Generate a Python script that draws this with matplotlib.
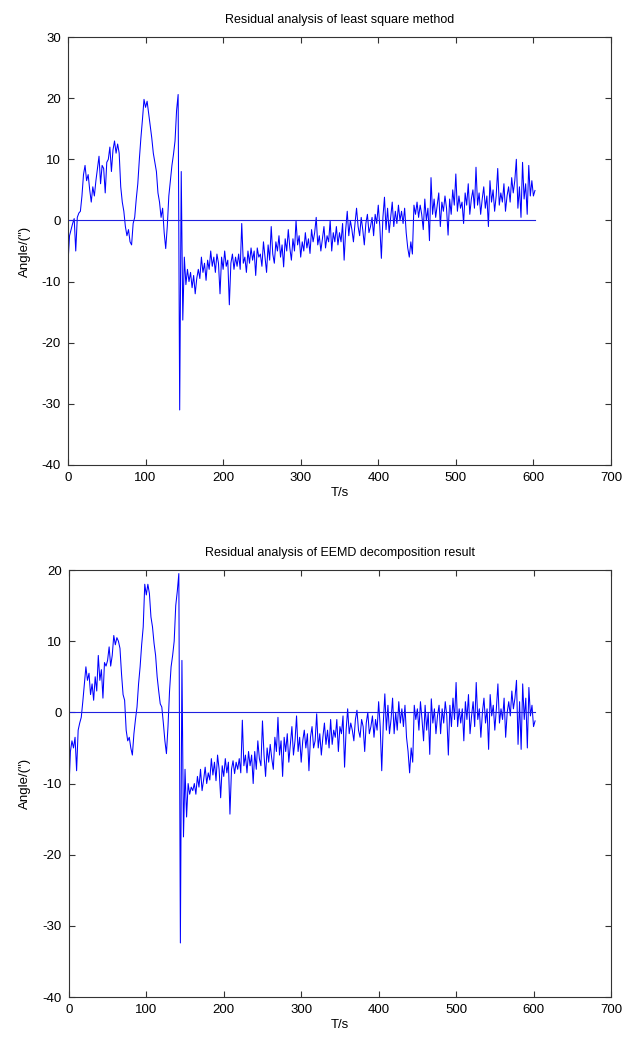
import numpy as np
import matplotlib.pyplot as plt

# residuals, one value every 2 s starting at t = 0
ls_residual = [
    -7, -2.5, -1.5, -0.5, 0.3, -5, 0.5, 1.2, 1.5, 4,
    7.5, 9, 6.5, 7.5, 5, 3, 5.5, 4, 6.5, 8.5,
    10.5, 6, 9, 8.5, 4.5, 9.5, 10, 12, 8, 11.5,
    13, 11, 12.5, 11, 5.5, 3, 1.5, -1, -2.5, -1.5,
    -3.5, -4, -0.5, 0.5, 3.5, 6, 10, 13.5, 16.5, 19.8,
    18.5, 19.5, 17.5, 15.5, 13.5, 11, 9.5, 8, 4.5, 3,
    0.5, 2, -2, -4.6, -1, 4, 6.5, 9, 10.8, 13,
    18, 20.6, -31, 8, -16.3, -6, -10.5, -8, -10, -8.5,
    -11, -9, -12, -9.5, -8, -9.5, -6, -8.5, -7, -9.8,
    -6.5, -8, -5, -7.5, -6, -8.5, -5.5, -7, -12, -6,
    -8, -5, -7.5, -6.5, -13.8, -7, -5.5, -8, -6, -7.5,
    -5.5, -8, -0.5, -7, -6, -8.5, -5, -7, -4.5, -6.5,
    -5, -9, -4.5, -6, -5.5, -7.5, -3.5, -6, -8.5, -4,
    -6.5, -1, -5.5, -7, -3.5, -5, -2.5, -6, -4, -7.6,
    -3, -5, -1.5, -4.5, -6.5, -3, -5, 0, -4, -2.5,
    -6, -3.5, -5, -2, -4.5, -3, -5.4, -1.5, -3.5, -2,
    0.5, -4, -2.5, -5, -3, -1, -4.5, -2.5, -3.5, 0,
    -5, -2, -3.5, -1, -4, -2, -3.5, -0.5, -6.5, -1.5,
    1.5, -2.5, 0, -1.5, -3.5, -0.5, 2, -1, -2.5, 0.5,
    -1.5, -4, -0.5, 1, -2, -1, 0.5, -2.5, 1, -0.5,
    2.5, -1, -6.2, 0.5, 3.8, -1.5, 2, -2, 0.5, 3,
    -1, 1.5, -0.5, 2.5, 0, 1.5, -0.5, 2, -2, -4.5,
    -6, -3.5, -5.5, 2.5, 1, 3, 0.5, 2.5, 1, -1.5,
    3.5, 0, 2, -3.3, 7, 1, 3.5, 0.5, 2.5, 4.5,
    -1, 3, 1.5, 4, 2, -2.4, 3.5, 1, 5, 2.5,
    7.6, 1.5, 4, 2, 3, -0.5, 4.5, 2.5, 6, 1,
    3.5, 5, 2, 8.7, 2.5, 4.5, 1, 3.5, 5.5, 2,
    4, -1, 6.5, 3, 5, 1.5, 4, 8.5, 2.5, 4.5,
    3, 6, 1.5, 4, 5.5, 3, 7, 4.5, 6.5, 10,
    2, 5.5, 0.5, 9.5, 3.5, 6, 1, 9, 4, 6.5,
    4, 4.9,
]

eemd_residual = [
    -11, -5.5, -4, -5, -3.5, -8.2, -2.5, -1.5, -0.7, 1.5,
    4, 6.4, 4.5, 5.5, 2.5, 4, 1.7, 5, 3, 8,
    4.5, 6, 2, 7, 6.5, 7.3, 9.2, 6.5, 8, 10.8,
    9.5, 10.5, 10, 9, 5.4, 2.5, 1.7, -2.5, -4, -3.5,
    -5, -6, -3, -1, 0.75, 4, 6.4, 9.5, 12, 18,
    16.5, 18, 16.7, 13.4, 12, 9.7, 8, 5, 3, 1.2,
    0.75, -1.5, -4, -5.8, -2, 3, 6.4, 8, 10, 15,
    17, 19.5, -32.4, 7.3, -17.5, -8, -14.7, -10, -11.5, -10.5,
    -11, -10, -11.5, -9, -10.5, -8, -11, -9.5, -7.7, -10,
    -8.5, -9.5, -6.5, -8.8, -7, -9.6, -6, -8, -12, -7.5,
    -9, -6.5, -8.5, -7, -14.3, -8, -6.8, -8.6, -7, -8,
    -6.5, -8.5, -1.1, -7.5, -6, -8.5, -5.5, -7.5, -6, -10,
    -5.5, -8, -4, -6.5, -7.5, -1.2, -6, -9, -5, -7,
    -4.5, -6.5, -8, -3.5, -5.5, -0.7, -6, -4, -9, -3.5,
    -5.5, -3, -7, -4.5, -2, -6, -4, -0.5, -5.5, -3.5,
    -7, -4, -2.5, -5, -3, -8.2, -3.5, -2, -5, -4,
    -0.2, -5, -3, -6, -3.5, -1.5, -4.5, -2.5, -5, -1,
    -4.5, -2.5, -3.5, -1, -5.5, -2, -3, -0.5, -7.7, -2.5,
    0.5, -3, -1.5, -2.5, -4, -1, 0.3, -2.5, -3.5, -1,
    -2, -5.5, -1.5, 0, -3, -2, -0.5, -3.5, -1, -2.5,
    1.5, -2, -8.2, -1.5, 2.6, -2.5, 1, -3, -1, 2,
    -3, 0, -2.5, 1.5, -1.5, 0.5, -2, 1, -3.5, -5.5,
    -8.5, -5, -7, 1, -1, 0.5, -2.5, 1.5, -1, -4,
    1, -2.5, 0, -5.9, 1.9, -1.5, 0.5, -3, -0.5, 1,
    -3, 0.5, -1.5, 1.5, -0.5, -6, 1, -2, 2, -1,
    4.2, -2, 0.5, -1.5, 0.5, -4, 1.5, -1, 2.5, -3,
    -0.5, 1.5, -2, 4.2, -1, 0.5, -3.5, 0, 2, -1.5,
    0.5, -5.2, 2.5, -0.5, 1, -2.5, 0.5, 4, -1.5, 0.5,
    -1, 2, -3.5, 0, 1.5, -0.5, 3, 0.5, 2, 4.5,
    -4.5, 1.5, -5.2, 4, -1, 2, -5, 3.5, -0.5, 1,
    -2, -1.2,
]

titles = ["Residual analysis of least square method",
          "Residual analysis of EEMD decomposition result"]
y_limits = [(-40, 30), (-40, 20)]
x_ticks = [0, 100, 200, 300, 400, 500, 600, 700]

plt.rcParams['font.family'] = ['Liberation Sans', 'DejaVu Sans']
plt.rcParams['font.size'] = 9.5
plt.rcParams['axes.unicode_minus'] = False

fig = plt.figure(figsize=(6.26, 10.4), dpi=100)
ax_top = fig.add_axes([0.1086, 0.5529, 0.8674, 0.4115])
ax_bot = fig.add_axes([0.1100, 0.0413, 0.8660, 0.4106])

for ax, values, title, ylim in zip([ax_top, ax_bot], [ls_residual, eemd_residual], titles, y_limits):
    t = np.arange(len(values)) * 2
    ax.plot(t, values, color="#0000ff", linewidth=0.75)
    # zero reference line over the sampled range
    ax.plot([t[0], t[-1]], [0, 0], color="#2020e0", linewidth=0.8)

    ax.set_xlim(0, 700)
    ax.set_ylim(*ylim)
    ax.set_xticks(x_ticks)
    ax.set_yticks(np.arange(ylim[0], ylim[1] + 1, 10))
    ax.tick_params(direction="in", length=4, width=0.8, top=True, right=True,
                   colors="#333333", labelcolor="black", pad=5)
    for spine in ax.spines.values():
        spine.set_color("#333333")
        spine.set_linewidth(0.8)

    ax.set_title(title, fontsize=9, pad=10)
    ax.set_xlabel("T/s", labelpad=2)
    ax.set_ylabel('Angle/(")', labelpad=8)

fig.savefig("out.png", dpi=100)
